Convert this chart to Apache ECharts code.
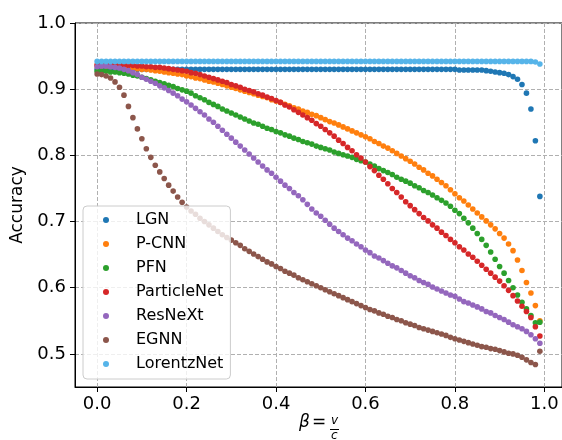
<!DOCTYPE html>
<html>
<head>
<meta charset="utf-8">
<title>Accuracy vs beta</title>
<script src="https://cdn.jsdelivr.net/npm/echarts@6.0.0/dist/echarts.min.js"></script>
<style>
  html, body { margin: 0; padding: 0; background: #fff; }
  #main { width: 562px; height: 440px; }
</style>
</head>
<body>
<div id="main"></div>
<script>
'use strict';

var beta = [
    0.00, 0.01, 0.02, 0.03, 0.04, 0.05, 0.06, 0.07, 0.08, 0.09,
    0.10, 0.11, 0.12, 0.13, 0.14, 0.15, 0.16, 0.17, 0.18, 0.19,
    0.20, 0.21, 0.22, 0.23, 0.24, 0.25, 0.26, 0.27, 0.28, 0.29,
    0.30, 0.31, 0.32, 0.33, 0.34, 0.35, 0.36, 0.37, 0.38, 0.39,
    0.40, 0.41, 0.42, 0.43, 0.44, 0.45, 0.46, 0.47, 0.48, 0.49,
    0.50, 0.51, 0.52, 0.53, 0.54, 0.55, 0.56, 0.57, 0.58, 0.59,
    0.60, 0.61, 0.62, 0.63, 0.64, 0.65, 0.66, 0.67, 0.68, 0.69,
    0.70, 0.71, 0.72, 0.73, 0.74, 0.75, 0.76, 0.77, 0.78, 0.79,
    0.80, 0.81, 0.82, 0.83, 0.84, 0.85, 0.86, 0.87, 0.88, 0.89,
    0.90, 0.91, 0.92, 0.93, 0.94, 0.95, 0.96, 0.97, 0.98, 0.99
];

var lgn = [
    0.930, 0.930, 0.930, 0.930, 0.930, 0.930, 0.930, 0.930, 0.930, 0.930,
    0.930, 0.930, 0.930, 0.930, 0.930, 0.930, 0.930, 0.930, 0.930, 0.930,
    0.930, 0.930, 0.930, 0.930, 0.930, 0.930, 0.930, 0.930, 0.930, 0.930,
    0.930, 0.930, 0.930, 0.930, 0.930, 0.930, 0.930, 0.930, 0.930, 0.930,
    0.930, 0.930, 0.930, 0.930, 0.930, 0.930, 0.930, 0.930, 0.930, 0.930,
    0.930, 0.930, 0.930, 0.930, 0.930, 0.930, 0.930, 0.930, 0.930, 0.930,
    0.930, 0.930, 0.930, 0.930, 0.930, 0.930, 0.930, 0.930, 0.930, 0.930,
    0.930, 0.930, 0.930, 0.930, 0.930, 0.930, 0.930, 0.930, 0.930, 0.930,
    0.930, 0.929, 0.929, 0.929, 0.929, 0.929, 0.929, 0.928, 0.927, 0.926,
    0.925, 0.924, 0.922, 0.919, 0.915, 0.907, 0.894, 0.870, 0.822, 0.738
];

var pcnn = [
    0.935, 0.935, 0.935, 0.934, 0.934, 0.934, 0.933, 0.933, 0.932, 0.931,
    0.930, 0.930, 0.929, 0.928, 0.927, 0.926, 0.925, 0.924, 0.923, 0.922,
    0.920, 0.919, 0.917, 0.916, 0.914, 0.912, 0.911, 0.909, 0.907, 0.905,
    0.903, 0.901, 0.899, 0.897, 0.895, 0.893, 0.891, 0.889, 0.887, 0.884,
    0.882, 0.880, 0.877, 0.875, 0.872, 0.870, 0.867, 0.865, 0.862, 0.860,
    0.857, 0.854, 0.851, 0.849, 0.846, 0.843, 0.840, 0.837, 0.834, 0.831,
    0.828, 0.825, 0.821, 0.818, 0.814, 0.811, 0.807, 0.803, 0.799, 0.795,
    0.791, 0.787, 0.782, 0.778, 0.773, 0.769, 0.764, 0.759, 0.754, 0.748,
    0.742, 0.736, 0.731, 0.725, 0.719, 0.713, 0.707, 0.701, 0.695, 0.689,
    0.682, 0.675, 0.666, 0.656, 0.642, 0.626, 0.608, 0.592, 0.573, 0.550
];

var pfn = [
    0.927, 0.927, 0.927, 0.926, 0.926, 0.925, 0.924, 0.923, 0.921, 0.920,
    0.918, 0.916, 0.914, 0.912, 0.910, 0.908, 0.906, 0.904, 0.901, 0.899,
    0.897, 0.894, 0.890, 0.887, 0.884, 0.880, 0.877, 0.874, 0.870, 0.867,
    0.864, 0.861, 0.858, 0.855, 0.852, 0.849, 0.847, 0.844, 0.841, 0.839,
    0.836, 0.834, 0.831, 0.829, 0.826, 0.824, 0.821, 0.819, 0.817, 0.814,
    0.812, 0.810, 0.808, 0.805, 0.803, 0.801, 0.799, 0.797, 0.794, 0.792,
    0.790, 0.787, 0.784, 0.780, 0.777, 0.774, 0.771, 0.767, 0.764, 0.761,
    0.758, 0.754, 0.751, 0.747, 0.744, 0.740, 0.736, 0.732, 0.728, 0.723,
    0.717, 0.712, 0.705, 0.698, 0.690, 0.682, 0.673, 0.664, 0.654, 0.643,
    0.632, 0.622, 0.611, 0.600, 0.589, 0.578, 0.568, 0.558, 0.547, 0.548
];

var particleNet = [
    0.937, 0.937, 0.937, 0.937, 0.937, 0.937, 0.936, 0.936, 0.936, 0.935,
    0.935, 0.934, 0.934, 0.933, 0.933, 0.932, 0.931, 0.930, 0.929, 0.928,
    0.927, 0.925, 0.924, 0.922, 0.920, 0.918, 0.916, 0.914, 0.912, 0.910,
    0.907, 0.905, 0.903, 0.900, 0.898, 0.896, 0.893, 0.891, 0.888, 0.886,
    0.883, 0.880, 0.876, 0.873, 0.869, 0.865, 0.861, 0.857, 0.853, 0.848,
    0.844, 0.839, 0.834, 0.829, 0.823, 0.818, 0.812, 0.807, 0.801, 0.796,
    0.790, 0.783, 0.777, 0.770, 0.764, 0.757, 0.750, 0.744, 0.737, 0.730,
    0.724, 0.718, 0.712, 0.706, 0.701, 0.695, 0.690, 0.684, 0.679, 0.673,
    0.668, 0.662, 0.657, 0.651, 0.646, 0.640, 0.634, 0.628, 0.622, 0.616,
    0.610, 0.603, 0.596, 0.588, 0.580, 0.572, 0.564, 0.555, 0.541, 0.527
];

var resNeXt = [
    0.934, 0.935, 0.935, 0.934, 0.933, 0.932, 0.930, 0.928, 0.925, 0.922,
    0.918, 0.915, 0.912, 0.909, 0.905, 0.902, 0.898, 0.894, 0.890, 0.885,
    0.881, 0.876, 0.871, 0.866, 0.861, 0.855, 0.850, 0.844, 0.838, 0.832,
    0.826, 0.820, 0.814, 0.808, 0.802, 0.796, 0.790, 0.784, 0.778, 0.773,
    0.767, 0.761, 0.755, 0.750, 0.744, 0.739, 0.733, 0.726, 0.719, 0.713,
    0.708, 0.702, 0.696, 0.690, 0.685, 0.680, 0.675, 0.671, 0.666, 0.662,
    0.657, 0.653, 0.648, 0.645, 0.641, 0.637, 0.633, 0.630, 0.626, 0.622,
    0.618, 0.615, 0.611, 0.608, 0.605, 0.601, 0.598, 0.595, 0.592, 0.589,
    0.587, 0.583, 0.579, 0.577, 0.574, 0.571, 0.568, 0.564, 0.562, 0.558,
    0.555, 0.552, 0.548, 0.544, 0.541, 0.538, 0.534, 0.529, 0.523, 0.516
];

var egnn = [
    0.923, 0.922, 0.920, 0.917, 0.911, 0.903, 0.891, 0.874, 0.857, 0.840,
    0.825, 0.810, 0.797, 0.785, 0.775, 0.765, 0.755, 0.746, 0.737, 0.729,
    0.722, 0.716, 0.711, 0.705, 0.700, 0.695, 0.690, 0.685, 0.680, 0.676,
    0.672, 0.668, 0.664, 0.659, 0.655, 0.651, 0.647, 0.643, 0.639, 0.636,
    0.632, 0.629, 0.625, 0.622, 0.619, 0.615, 0.612, 0.609, 0.606, 0.603,
    0.600, 0.597, 0.594, 0.591, 0.588, 0.585, 0.582, 0.579, 0.576, 0.573,
    0.570, 0.567, 0.565, 0.562, 0.560, 0.557, 0.555, 0.552, 0.550, 0.547,
    0.545, 0.543, 0.540, 0.538, 0.536, 0.534, 0.532, 0.530, 0.528, 0.525,
    0.523, 0.521, 0.519, 0.517, 0.515, 0.513, 0.511, 0.510, 0.508, 0.507,
    0.505, 0.503, 0.501, 0.500, 0.498, 0.495, 0.491, 0.487, 0.484, 0.504
];

var lorentzNet = [
    0.942, 0.942, 0.942, 0.942, 0.942, 0.942, 0.942, 0.942, 0.942, 0.942,
    0.942, 0.942, 0.942, 0.942, 0.942, 0.942, 0.942, 0.942, 0.942, 0.942,
    0.942, 0.942, 0.942, 0.942, 0.942, 0.942, 0.942, 0.942, 0.942, 0.942,
    0.942, 0.942, 0.942, 0.942, 0.942, 0.942, 0.942, 0.942, 0.942, 0.942,
    0.942, 0.942, 0.942, 0.942, 0.942, 0.942, 0.942, 0.942, 0.942, 0.942,
    0.942, 0.942, 0.942, 0.942, 0.942, 0.942, 0.942, 0.942, 0.942, 0.942,
    0.942, 0.942, 0.942, 0.942, 0.942, 0.942, 0.942, 0.942, 0.942, 0.942,
    0.942, 0.942, 0.942, 0.942, 0.942, 0.942, 0.942, 0.942, 0.942, 0.942,
    0.942, 0.942, 0.942, 0.942, 0.942, 0.942, 0.942, 0.942, 0.942, 0.942,
    0.942, 0.942, 0.942, 0.942, 0.942, 0.942, 0.942, 0.942, 0.941, 0.938
];

var names = ['LGN', 'P-CNN', 'PFN', 'ParticleNet', 'ResNeXt', 'EGNN', 'LorentzNet'];
var colors = ['#1f77b4', '#ff7f0e', '#2ca02c', '#d62728', '#9467bd', '#8c564b', '#56b4e9'];
var values = [lgn, pcnn, pfn, particleNet, resNeXt, egnn, lorentzNet];

var xTicks = [0, 0.2, 0.4, 0.6, 0.8, 1.0];
var yTicks = [0.5, 0.6, 0.7, 0.8, 0.9, 1.0];

var FONT = 'DejaVu Sans';

function toPoints(ys) {
    return ys.map(function (y, i) {
        return [beta[i], y];
    });
}

var series = names.map(function (name, k) {
    return {
        name: name,
        type: 'scatter',
        symbol: 'circle',
        symbolSize: 5.6,
        itemStyle: { color: colors[k], opacity: 1 },
        emphasis: { disabled: true },
        data: toPoints(values[k])
    };
});

var gridLine = { show: true, lineStyle: { color: '#b0b0b0', width: 1, type: [4, 2] } };

var chart = echarts.init(document.getElementById('main'), null, { renderer: 'canvas' });
chart.setOption({
    animation: false,
    backgroundColor: '#ffffff',
    textStyle: { fontFamily: FONT },
    grid: {
        left: 75, top: 23, right: -1, bottom: 53,
        show: true, borderColor: '#000', borderWidth: 1
    },
    legend: {
        orient: 'vertical',
        left: 83,
        top: 206,
        icon: 'circle',
        itemWidth: 6,
        itemHeight: 6,
        itemGap: 8,
        padding: [6, 7, 7, 20],
        backgroundColor: 'rgba(255,255,255,0.8)',
        borderColor: '#cccccc',
        borderWidth: 1,
        borderRadius: 4,
        textStyle: { fontFamily: FONT, fontSize: 16, lineHeight: 16, color: '#000', padding: [0, 0, 0, 22] },
        data: names
    },
    xAxis: {
        type: 'value',
        min: -0.0495,
        max: 1.0395,
        axisLine: { show: true, onZero: false, lineStyle: { color: '#000', width: 1 } },
        axisTick: { show: true, length: 5, customValues: xTicks, lineStyle: { color: '#000' } },
        axisLabel: {
            customValues: xTicks,
            margin: 8,
            fontFamily: FONT,
            fontSize: 18,
            color: '#000',
            formatter: function (v) { return v.toFixed(1); }
        },
        splitLine: gridLine
    },
    yAxis: {
        type: 'value',
        min: 0.45,
        max: 1.0,
        name: 'Accuracy',
        nameLocation: 'middle',
        nameGap: 46,
        nameTextStyle: { fontFamily: FONT, fontSize: 17, color: '#000' },
        axisLine: { show: true, onZero: false, lineStyle: { color: '#000', width: 1 } },
        axisTick: { show: true, length: 5, customValues: yTicks, lineStyle: { color: '#000' } },
        axisLabel: {
            customValues: yTicks,
            margin: 9,
            fontFamily: FONT,
            fontSize: 18,
            color: '#000',
            formatter: function (v) { return v.toFixed(1); }
        },
        splitLine: gridLine
    },
    graphic: [
        // x-axis label: beta = v / c
        { type: 'text', left: 299, top: 414, style: { text: 'β', fontFamily: FONT, fontStyle: 'italic', fontSize: 17, fill: '#000' } },
        { type: 'text', left: 312, top: 414, style: { text: '=', fontFamily: FONT, fontSize: 17, fill: '#000' } },
        { type: 'text', left: 331, top: 415, style: { text: 'v', fontFamily: FONT, fontStyle: 'italic', fontSize: 12, fill: '#000' } },
        { type: 'line', shape: { x1: 330, y1: 429.5, x2: 339, y2: 429.5 }, style: { stroke: '#000', lineWidth: 1 } },
        { type: 'text', left: 331, top: 430, style: { text: 'c', fontFamily: FONT, fontStyle: 'italic', fontSize: 12, fill: '#000' } }
    ],
    series: series
});
</script>
</body>
</html>
